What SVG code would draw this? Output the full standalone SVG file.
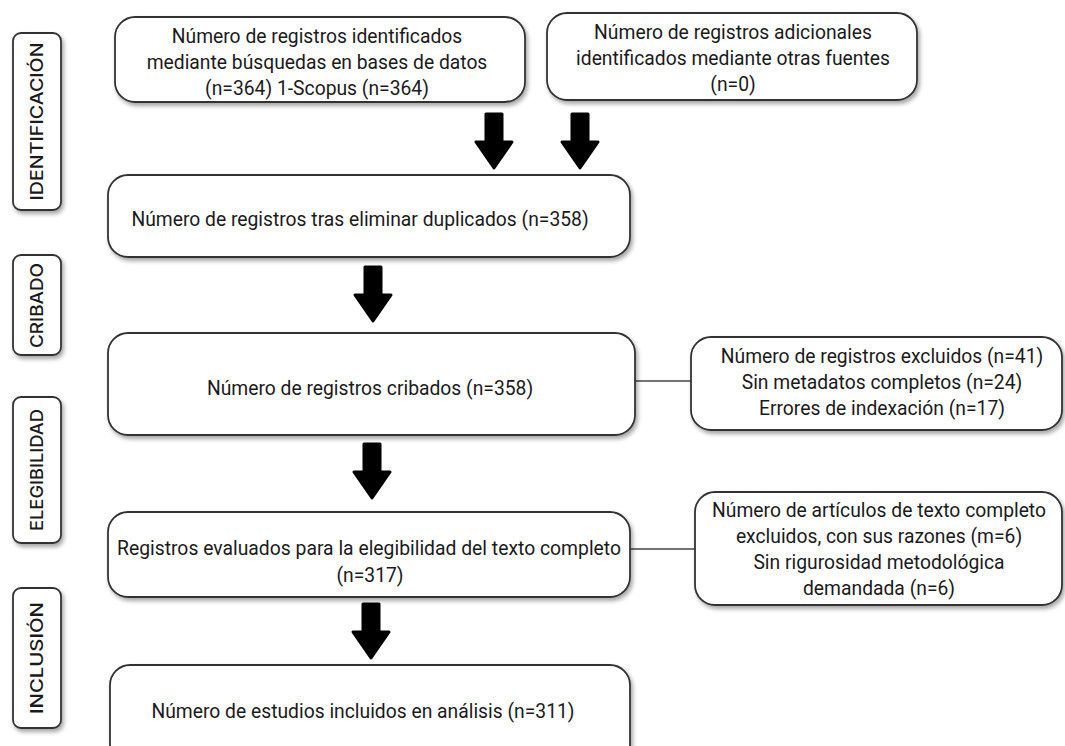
<svg xmlns="http://www.w3.org/2000/svg" width="1065" height="746" viewBox="0 0 1065 746">
<style>
.box{fill:#fff;stroke:#333;stroke-width:1.8;filter:url(#sh)}
.lbl{fill:#fff;stroke:#333;stroke-width:1.8;filter:url(#sh)}
.t{font-family:Roboto,"Liberation Sans",sans-serif;font-size:19.3px;fill:#1a1a1a;text-anchor:middle}
.lt{font-family:Inter,"Liberation Sans",Arial,sans-serif;font-size:17px;fill:#1a1a1a;text-anchor:middle;font-weight:500}
.ln{stroke:#444;stroke-width:1.6;fill:none}
.arr{fill:#000;stroke:#000;stroke-width:3;stroke-linejoin:round}
</style>
<defs>
<filter id="sh" x="-10%" y="-10%" width="125%" height="135%">
<feDropShadow dx="2" dy="3" stdDeviation="2" flood-color="#000" flood-opacity="0.35"/>
</filter>
<path id="arrow" d="M -8,1 H 8 V 29 H 18 L 0 55 L -18 29 H -8 Z"/>
</defs>
<rect width="1065" height="746" fill="#fff"/>

<g id="label-identificacion">
<rect class="lbl" x="13" y="33" width="48" height="177" rx="8"/>
<text class="lt" transform="translate(43,121.5) rotate(-90)" textLength="158" lengthAdjust="spacingAndGlyphs">IDENTIFICACIÓN</text>
</g>
<g id="label-cribado">
<rect class="lbl" x="13" y="255" width="48" height="100" rx="8"/>
<text class="lt" transform="translate(43,305.5) rotate(-90)" textLength="85" lengthAdjust="spacingAndGlyphs">CRIBADO</text>
</g>
<g id="label-elegibilidad">
<rect class="lbl" x="13" y="397" width="48" height="146" rx="8"/>
<text class="lt" transform="translate(43,470) rotate(-90)" textLength="122" lengthAdjust="spacingAndGlyphs">ELEGIBILIDAD</text>
</g>
<g id="label-inclusion">
<rect class="lbl" x="13" y="588" width="48" height="140" rx="8"/>
<text class="lt" transform="translate(43,658) rotate(-90)" textLength="112" lengthAdjust="spacingAndGlyphs">INCLUSIÓN</text>
</g>

<g id="connectors">
<use href="#arrow" class="arr" transform="translate(494,113)"/>
<use href="#arrow" class="arr" transform="translate(580,113)"/>
<use href="#arrow" class="arr" transform="translate(373,266)"/>
<use href="#arrow" class="arr" transform="translate(372,443)"/>
<use href="#arrow" class="arr" transform="translate(371,603)"/>
<line class="ln" x1="635" y1="381" x2="691" y2="381"/>
<line class="ln" x1="630" y1="549" x2="695" y2="549"/>
</g>

<g id="n1">
<rect class="box" x="115" y="17" width="410" height="85" rx="20"/>
<text class="t" x="317" y="43">Número de registros identificados</text>
<text class="t" x="317" y="69">mediante búsquedas en bases de datos</text>
<text class="t" x="317" y="95">(n=364) 1-Scopus (n=364)</text>
</g>
<g id="n2">
<rect class="box" x="547" y="13" width="370" height="87" rx="20"/>
<text class="t" x="733" y="39">Número de registros adicionales</text>
<text class="t" x="733" y="65">identificados mediante otras fuentes</text>
<text class="t" x="733" y="91">(n=0)</text>
</g>
<g id="n3">
<rect class="box" x="108" y="175" width="522" height="82" rx="20"/>
<text class="t" x="360" y="226">Número de registros tras eliminar duplicados (n=358)</text>
</g>
<g id="n4">
<rect class="box" x="108" y="333" width="527" height="102" rx="20"/>
<text class="t" x="370" y="395">Número de registros cribados (n=358)</text>
</g>
<g id="n5">
<rect class="box" x="108" y="512" width="522" height="85" rx="20"/>
<text class="t" x="369" y="555" textLength="504" lengthAdjust="spacingAndGlyphs">Registros evaluados para la elegibilidad del texto completo</text>
<text class="t" x="370" y="582">(n=317)</text>
</g>
<g id="n6">
<rect class="box" x="110" y="665" width="520" height="100" rx="20"/>
<text class="t" x="363" y="718">Número de estudios incluidos en análisis (n=311)</text>
</g>
<g id="s1">
<rect class="box" x="691" y="337" width="371" height="93" rx="20"/>
<text class="t" x="882" y="363">Número de registros excluidos (n=41)</text>
<text class="t" x="882" y="389">Sin metadatos completos (n=24)</text>
<text class="t" x="882" y="415">Errores de indexación (n=17)</text>
</g>
<g id="s2">
<rect class="box" x="695" y="492" width="367" height="113" rx="20"/>
<text class="t" x="879" y="517">Número de artículos de texto completo</text>
<text class="t" x="879" y="543">excluidos, con sus razones (m=6)</text>
<text class="t" x="879" y="569">Sin rigurosidad metodológica</text>
<text class="t" x="879" y="595">demandada (n=6)</text>
</g>
</svg>
